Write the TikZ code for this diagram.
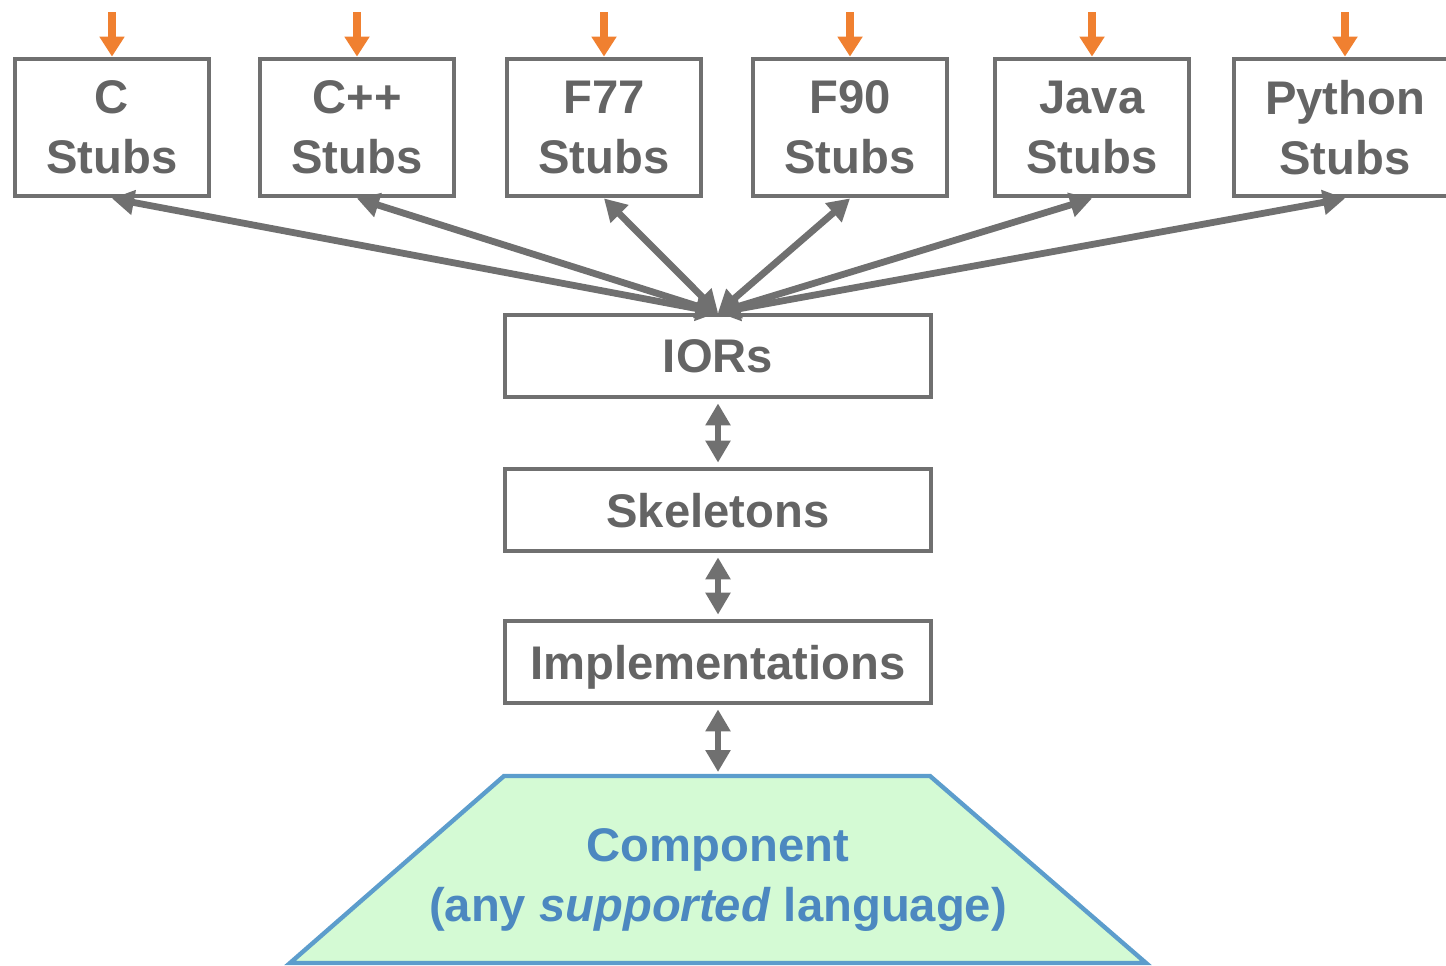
\documentclass[tikz,border=0pt]{standalone}
\usepackage{fontspec}
\setmainfont{Liberation Sans}
\usetikzlibrary{arrows.meta}
\definecolor{boxgray}{RGB}{112,112,112}
\definecolor{textgray}{RGB}{100,100,100}
\definecolor{inorange}{RGB}{240,128,48}
\definecolor{compblue}{RGB}{92,157,204}
\definecolor{compfill}{RGB}{212,250,212}
\definecolor{comptext}{RGB}{76,136,192}
\begin{document}
\begin{tikzpicture}[x=0.5pt,y=-0.5pt,
    stubbox/.style={draw=boxgray,line width=2.4pt,text=textgray,align=center,
        font=\bfseries\fontsize{23.6}{30}\selectfont,inner sep=0pt,
        minimum width=97pt,minimum height=68.5pt},
    layerbox/.style={stubbox,minimum width=213pt,minimum height=41pt,text depth=0pt},
    link/.style={draw=boxgray,line width=3.4pt,
        {Triangle[length=11pt,width=12pt]}-{Triangle[length=11pt,width=12pt]}},
    feed/.style={draw=inorange,line width=4pt,-{Triangle[length=10pt,width=12pt]}}]
\useasboundingbox (0,0) rectangle (1446,965);
% language stubs
\node[stubbox] (c) at (112,127.5) {C\\Stubs};
\node[stubbox] (cxx) at (357,127.5) {C++\\Stubs};
\node[stubbox] (f77) at (604,127.5) {F77\\Stubs};
\node[stubbox] (f90) at (850,127.5) {F90\\Stubs};
\node[stubbox] (java) at (1092,127.5) {Java\\Stubs};
\node[stubbox,minimum width=111pt] (python) at (1345,127.5) {Python\\Stubs};
% layers
\node[layerbox] (iors) at (718,356) {IORs};
\node[layerbox] (skel) at (718,510) {Skeletons};
\node[layerbox] (impl) at (718,662) {Implementations};
% component
\draw[draw=compblue,fill=compfill,line width=2.2pt,line join=miter]
    (504,776) -- (930,776) -- (1146,963) -- (290,963) -- cycle;
\coordinate (comptop) at (718,774);
\node[text=comptext,align=center,font=\bfseries\fontsize{23.6}{30}\selectfont]
    (comp) at (718,880) {Component\\(any \textit{supported} language)};
% calls coming in
\coordinate (c-in) at (112,12);
\coordinate (cxx-in) at (357,12);
\coordinate (f77-in) at (604,12);
\coordinate (f90-in) at (850,12);
\coordinate (java-in) at (1092,12);
\coordinate (python-in) at (1345,12);
\draw[feed] (c-in) -- (c.north);
\draw[feed] (cxx-in) -- (cxx.north);
\draw[feed] (f77-in) -- (f77.north);
\draw[feed] (f90-in) -- (f90.north);
\draw[feed] (java-in) -- (java.north);
\draw[feed] (python-in) -- (python.north);
% stubs to IORs
\draw[link] (iors.north) -- (c.south);
\draw[link] (iors.north) -- (cxx.south);
\draw[link] (iors.north) -- (f77.south);
\draw[link] (iors.north) -- (f90.south);
\draw[link] (iors.north) -- (java.south);
\draw[link] (iors.north) -- (python.south);
% down the stack
\draw[link,shorten <=2pt,shorten >=2pt] (iors.south) -- (skel.north);
\draw[link,shorten <=2pt,shorten >=2pt] (skel.south) -- (impl.north);
\draw[link,shorten <=2pt,shorten >=1pt] (impl.south) -- (comptop);
\end{tikzpicture}
\end{document}
